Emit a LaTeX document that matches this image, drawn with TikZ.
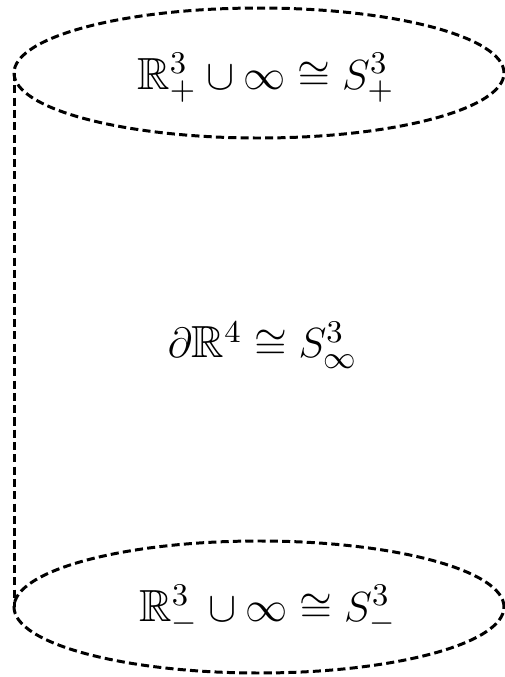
\documentclass[tikz,border=0pt]{standalone}
\usepackage{amsmath,amssymb}
\usetikzlibrary{positioning}

\begin{document}
\begin{tikzpicture}[thick, scale=1]
\tikzstyle{dStyle}=[dash pattern=on 2.3pt off 1.2pt, line width=0.85pt]
\tikzstyle{tStyle}=[draw=none, fill=none, inner sep=1pt, font=\fontsize{12.8}{15}\selectfont]
\useasboundingbox (0,0) rectangle (5.05,6.77);

\coordinate (top) at (2.59,6.04);
\coordinate (bot) at (2.59,0.70);
\coordinate (tl) at (0.145,6.04);
\coordinate (bl) at (0.145,0.70);

\draw[dStyle] (top) ellipse (2.45 and 0.65);
\draw[dStyle] (bot) ellipse (2.45 and 0.66);
\draw[dStyle] (tl) -- (bl);

\draw (2.66,5.99) node[tStyle] (up) {$\mathbb{R}^3_+ \cup \infty \cong S^3_+$};
\draw (2.63,3.32) node[tStyle] (mid) {$\partial\mathbb{R}^4 \cong S^3_\infty$};
\draw (2.68,0.67) node[tStyle] (down) {$\mathbb{R}^3_- \cup \infty \cong S^3_-$};
\end{tikzpicture}
\end{document}
